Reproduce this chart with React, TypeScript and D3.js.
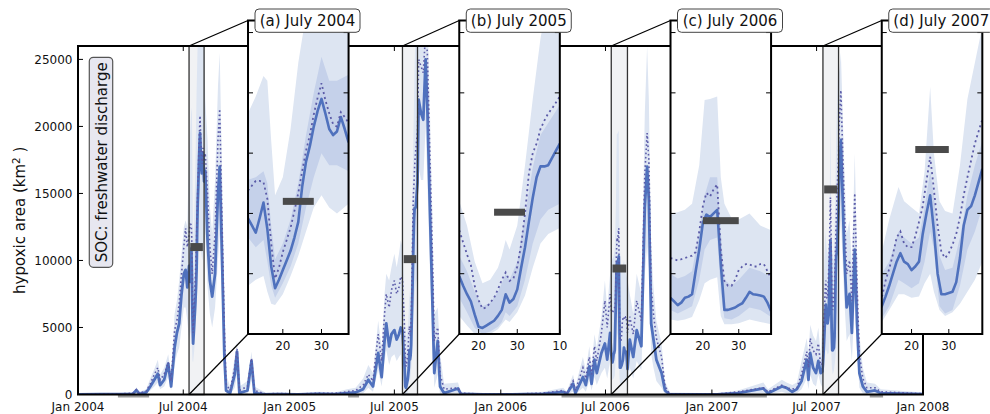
import React from "react";
import * as d3 from "d3";

const W = 990;
const H = 414;
const plot = { left: 78, right: 923, top: 46, bottom: 394.5 };
const insetBox = { top: 20.5, bottom: 334, offset: 0.2012, step: 0.25, width: 0.119 };

const yMax = 26000;
const yTicks = [0, 5000, 10000, 15000, 20000, 25000];

const meanColor = "#4f71bd";
const dottedColor = "#5b5ba8";
const outerColor = "#dde5f2";
const innerColor = "#c5d1ea";
const obsColor = "#4a4a4a";

// main record, outside the July windows (the windows come from the panel arrays)
const mainDates = [
  "2004-01-01", "2004-02-10", "2004-03-05", "2004-04-05", "2004-04-11", "2004-04-16", "2004-04-28",
  "2004-05-05", "2004-05-12", "2004-05-18", "2004-05-22", "2004-05-29", "2004-06-05", "2004-06-10",
  "2004-06-16", "2004-06-20", "2004-06-24", "2004-06-28", "2004-07-02", "2004-07-05", "2004-07-08",
  "2004-08-08", "2004-08-12", "2004-08-16", "2004-08-20", "2004-08-25", "2004-08-30", "2004-09-02",
  "2004-09-06", "2004-09-10", "2004-09-13", "2004-09-20", "2004-09-28", "2004-10-02", "2004-10-06",
  "2004-10-20", "2004-10-27", "2004-11-01", "2004-11-20", "2004-12-15",
  "2005-01-15", "2005-02-20", "2005-03-20", "2005-04-10", "2005-04-25", "2005-05-08", "2005-05-17",
  "2005-05-25", "2005-06-03", "2005-06-09", "2005-06-14", "2005-06-17", "2005-06-22", "2005-06-26",
  "2005-07-01", "2005-07-05", "2005-07-09", "2005-07-12",
  "2005-08-12", "2005-08-16", "2005-08-20", "2005-08-24", "2005-08-27", "2005-08-31", "2005-09-05",
  "2005-09-08", "2005-09-14", "2005-09-18", "2005-09-25", "2005-10-19", "2005-10-24", "2005-12-01",
  "2006-01-20", "2006-03-15", "2006-04-19", "2006-04-25", "2006-05-06", "2006-05-10", "2006-05-23",
  "2006-05-28", "2006-06-03", "2006-06-07", "2006-06-12", "2006-06-16", "2006-06-24", "2006-06-30",
  "2006-07-04", "2006-07-09",
  "2006-08-12", "2006-08-18", "2006-08-24", "2006-09-01", "2006-09-07", "2006-09-11", "2006-09-14",
  "2006-09-18", "2006-09-22", "2006-09-27", "2006-10-06", "2006-10-12", "2006-10-20",
  "2007-01-10", "2007-02-15", "2007-03-31", "2007-04-08", "2007-05-02", "2007-05-10", "2007-05-20",
  "2007-05-28", "2007-06-05", "2007-06-14", "2007-06-17", "2007-06-20", "2007-06-25", "2007-06-30",
  "2007-07-04", "2007-07-08",
  "2007-08-09", "2007-08-12", "2007-08-18", "2007-08-22", "2007-08-27", "2007-08-31", "2007-09-05",
  "2007-09-09", "2007-09-13", "2007-09-19", "2007-09-26", "2007-10-10", "2007-10-20", "2007-12-31",
];
const mainMean = [
  0, 30, 20, 50, 320, 50, 150,
  600, 1100, 1550, 700, 1100, 2300, 600,
  3500, 4600, 5300, 7500, 9000, 9300, 8000,
  16700, 11500, 8500, 7300, 9000, 15000, 17000,
  10300, 3000, 300, 100, 1500, 3200, 100,
  300, 2500, 100, 0, 30,
  0, 50, 30, 100, 150, 400, 1100,
  600, 3100, 1300, 4000, 5300, 3600, 4500,
  4800, 4100, 4500, 5000,
  22000, 21000, 20500, 25000, 21500, 14500, 6500,
  1600, 4000, 600, 100, 450, 50, 0,
  0, 50, 200, 30, 800, 100, 1300,
  700, 2100, 800, 2600, 1600, 3100, 3800,
  2600, 4600,
  4100, 2800, 4800, 3600, 14000, 17000, 14500,
  5300, 4100, 2600, 1600, 300, 0,
  0, 100, 450, 100, 600, 500, 200,
  400, 1000, 2600, 1100, 3100, 2000, 1600,
  2500, 1600,
  16000, 19000, 10500, 6500, 7500, 4600, 10800,
  5300, 1600, 600, 200, 300, 100, 30,
];
const mainDotted = [
  0, 60, 40, 90, 380, 100, 250,
  800, 1500, 2000, 1100, 1500, 2400, 1000,
  4800, 5500, 6800, 9000, 11000, 12400, 11000,
  18000, 15000, 11000, 9000, 12000, 19000, 21300,
  13000, 5000, 800, 300, 2000, 3400, 300,
  600, 2700, 300, 50, 80,
  30, 100, 80, 200, 300, 700, 1500,
  1000, 4500, 2500, 6000, 7500, 6500, 7800,
  8500, 7500, 8000, 8800,
  25000, 24500, 24000, 27000, 25500, 18500, 10000,
  4000, 5000, 1500, 400, 500, 100, 30,
  30, 100, 300, 80, 1000, 300, 2000,
  1200, 2800, 1500, 3600, 2500, 4600, 7000,
  5000, 7500,
  5800, 4500, 7000, 5500, 16500, 19500, 17500,
  8000, 6000, 4200, 2800, 600, 50,
  30, 200, 500, 200, 700, 500, 400,
  500, 1500, 3200, 2000, 4200, 3300, 3000,
  3800, 2200,
  20000, 22700, 14000, 9000, 10000, 7000, 15000,
  8000, 3000, 1200, 500, 500, 200, 60,
];
const mainLo = [
  0, 0, 0, 0, 100, 0, 50,
  300, 600, 900, 400, 600, 1300, 300,
  2200, 3000, 3500, 5000, 6500, 6500, 5500,
  12000, 8000, 6000, 5000, 6500, 10000, 12000,
  7000, 1500, 0, 0, 500, 1500, 0,
  0, 1000, 0, 0, 0,
  0, 0, 0, 0, 0, 100, 500,
  200, 1800, 600, 2500, 3300, 2200, 2800,
  3000, 2500, 2800, 3000,
  17000, 16000, 16000, 20000, 16000, 10000, 4000,
  500, 1500, 0, 0, 100, 0, 0,
  0, 0, 0, 0, 200, 0, 500,
  200, 1000, 300, 1300, 700, 1600, 2000,
  1200, 2500,
  2000, 1200, 2500, 1800, 9000, 11000, 9500,
  3000, 2000, 1000, 500, 0, 0,
  0, 0, 100, 0, 200, 100, 0,
  100, 400, 1200, 400, 1500, 800, 600,
  1500, 800,
  11000, 13000, 7000, 4000, 4500, 2500, 7000,
  3000, 500, 100, 0, 0, 0, 0,
];
const mainHi = [
  50, 120, 100, 180, 550, 200, 400,
  1200, 1900, 2600, 1500, 2000, 3000, 1400,
  6000, 7000, 8500, 10500, 12500, 13000, 12500,
  22000, 19000, 14000, 12000, 16000, 23000, 25500,
  17000, 7000, 1500, 600, 2800, 4000, 600,
  1000, 3200, 600, 150, 150,
  100, 200, 150, 400, 500, 1200, 2200,
  1600, 5500, 3500, 7500, 9000, 8500, 9500,
  10500, 9500, 10500, 11500,
  27000, 27000, 27500, 30000, 29000, 22000, 13000,
  6000, 6500, 3000, 800, 900, 200, 80,
  100, 200, 500, 200, 1500, 600, 2800,
  1800, 3600, 2200, 4500, 3500, 5800, 8500,
  6500, 9000,
  7500, 6000, 9000, 7500, 21000, 26000, 22000,
  11000, 8000, 5500, 3800, 1000, 150,
  100, 300, 900, 400, 1100, 900, 700,
  900, 2500, 4200, 3000, 5200, 4400, 4000,
  5000, 3000,
  24000, 25500, 17000, 12000, 13000, 9500, 18000,
  10500, 4500, 2000, 900, 800, 400, 150,
];

// observations sitting on zero (drawn just under the x axis)
const zeroObsStart = ["2004-03-10", "2005-04-12", "2006-04-16", "2007-10-01"];
const zeroObsEnd = ["2004-05-03", "2005-05-01", "2007-04-06", "2007-10-24"];

// July windows; days count from 1 July, so 37 means 6 August
const panelLabels = ["(a) July 2004", "(b) July 2005", "(c) July 2006", "(d) July 2007"];
const panelYears = [2004, 2005, 2006, 2007];
const windowStart = [11, 15, 11, 12];
const windowEnd = [37, 41, 39, 39];
const firstDay = [11, 15, 11, 11];
const obsStart = [20, 24, 20, 21];
const obsEnd = [28, 32, 30, 30];
const obsArea = [11000, 10100, 9400, 15300];

const meanA = [9600, 9000, 8400, 9600, 10900, 8700, 5600, 3800, 4500, 5300, 6100, 6900, 8000, 9300,
  12200, 14300, 15600, 17200, 18500, 19500, 18300, 17000, 16500, 16800, 18000, 17000, 15900];
const dottedA = [11900, 12300, 12700, 12700, 12600, 11200, 7500, 4600, 5500, 6800, 7800, 8800, 10200,
  11700, 13500, 15200, 16500, 18200, 19600, 20800, 19400, 18300, 17400, 17200, 18400, 18000, 17500];
const bandDaysA = [11, 13, 15, 16, 17, 18, 20, 22, 24, 26, 28, 30, 32, 34, 37];
const outerHiA = [18300, 19700, 21400, 21000, 16000, 11500, 13000, 17000, 22500, 26500, 28000, 28000, 28000, 28000, 28000];
const outerLoA = [4000, 4500, 4800, 3500, 2500, 2400, 3300, 4800, 6500, 8500, 10500, 11500, 10500, 10000, 10800];
const innerHiA = [12800, 13000, 13500, 12500, 9000, 6200, 7500, 9500, 12500, 16500, 20000, 23000, 21000, 21000, 21500];
const innerLoA = [8000, 7200, 7800, 6000, 4000, 3000, 4200, 5600, 7500, 10500, 13000, 15000, 14000, 14000, 13500];

const meanB = [4800, 4000, 3300, 2700, 1600, 600, 500, 700, 900, 1100, 1500, 2000, 3300, 2600,
  2900, 3700, 5500, 7200, 9300, 11300, 13000, 13900, 13900, 14000, 14600, 15200, 15800];
const dottedB = [8600, 7600, 6600, 5700, 4000, 2800, 2100, 2200, 2600, 3000, 3700, 4500, 5100, 4400,
  4600, 5600, 7400, 10000, 13300, 15000, 15800, 17000, 17700, 18300, 18700, 19200, 19700];
const bandDaysB = [15, 17, 19, 21, 23, 25, 26, 27, 28, 30, 32, 34, 36, 38, 41];
const outerHiB = [11000, 9000, 6000, 4200, 4500, 5500, 6500, 7800, 7000, 9000, 14000, 19500, 24500, 28000, 28000];
const outerLoB = [1500, 700, 0, 0, 0, 400, 800, 1200, 1000, 1800, 3200, 5500, 7500, 8300, 8800];
const innerHiB = [6500, 5200, 3500, 2300, 2600, 3500, 4200, 5000, 4500, 6000, 9800, 13800, 16500, 17500, 19000];
const innerLoB = [3000, 1800, 500, 0, 200, 600, 1000, 1800, 1500, 2300, 4500, 7500, 9500, 10300, 10800];

const meanC = [3000, 2700, 2400, 2600, 3000, 3100, 3300, 5200, 7000, 9200, 9900, 9700, 10000, 10300,
  5800, 2000, 2000, 2100, 2200, 2400, 2550, 3000, 3500, 3300, 3250, 3200, 3100, 2600, 1900];
const dottedC = [6300, 6200, 6100, 6200, 6300, 6400, 6500, 6800, 8500, 10600, 11700, 11400, 12000, 12400,
  7000, 4400, 4000, 4000, 4500, 5300, 5600, 5800, 5800, 5600, 5600, 5800, 5800, 5200, 4600];
const bandDaysC = [11, 13, 15, 17, 19, 20.5, 22, 24, 25, 26, 28, 30, 33, 36, 39];
const outerHiC = [10000, 10100, 10300, 10800, 14000, 19400, 19500, 19700, 13000, 10800, 9600, 9500, 10000, 9000, 8600];
const outerLoC = [1200, 1100, 1200, 1400, 2800, 4200, 4500, 4700, 1500, 800, 800, 900, 1200, 1000, 800];
const innerHiC = [5000, 4600, 4800, 5200, 8500, 11500, 13000, 13000, 8500, 4500, 4000, 4500, 5500, 5200, 4700];
const innerLoC = [2000, 1700, 2000, 2300, 4500, 7000, 7800, 8000, 3500, 1300, 1200, 1500, 2200, 2000, 1400];

const meanD = [1700, 2300, 3100, 4000, 5000, 6000, 6700, 6000, 5800, 5300, 5600, 6000, 8300, 10000,
  11500, 8600, 5000, 3300, 3300, 3400, 3500, 4300, 6300, 9000, 10300, 10600, 11500, 12600, 13700];
const dottedD = [2300, 3000, 4400, 5400, 6600, 8000, 8500, 7500, 7200, 7200, 8100, 9300, 10600, 12700,
  14700, 12000, 9000, 6800, 6300, 6700, 7400, 8300, 9700, 11500, 13000, 14400, 15800, 16800, 17800];
const bandDaysD = [11, 14, 16.5, 18, 20, 22, 23.5, 25, 26, 27.5, 29, 31, 33, 35, 37, 39];
const outerHiD = [5500, 9500, 12200, 11000, 10500, 10000, 13500, 20500, 15000, 11000, 10200, 10000, 14000, 19500, 22500, 25500];
const outerLoD = [500, 2000, 3300, 3300, 3000, 3100, 4200, 5000, 3500, 2000, 1500, 1800, 2500, 3500, 4500, 6000];
const innerHiD = [4500, 6000, 8500, 8000, 7500, 8000, 10500, 13500, 11500, 6500, 5300, 5500, 8000, 11500, 14000, 16000];
const innerLoD = [800, 2300, 4500, 4200, 3800, 4200, 6000, 8500, 7000, 2300, 1700, 2000, 4000, 7000, 8500, 10500];

const parse = d3.timeParse("%Y-%m-%d");
const julyDate = (year: number, day: number) =>
  new Date(new Date(year, 6, 0).getTime() + day * 864e5);

const means = [meanA, meanB, meanC, meanD];
const dotteds = [dottedA, dottedB, dottedC, dottedD];
const bandDays = [bandDaysA, bandDaysB, bandDaysC, bandDaysD];
const outerHis = [outerHiA, outerHiB, outerHiC, outerHiD];
const outerLos = [outerLoA, outerLoB, outerLoC, outerLoD];
const innerHis = [innerHiA, innerHiB, innerHiC, innerHiD];
const innerLos = [innerLoA, innerLoB, innerLoC, innerLoD];

type LinePt = { date: Date; mean: number; dotted: number };
type BandPt = { date: Date; lo: number; hi: number };

const panels = panelYears.map((year, i) => ({
  year,
  label: panelLabels[i],
  from: julyDate(year, windowStart[i]),
  to: julyDate(year, windowEnd[i]),
  line: means[i].map((v, j) => ({ date: julyDate(year, firstDay[i] + j), mean: v, dotted: dotteds[i][j] })) as LinePt[],
  outer: bandDays[i].map((d, j) => ({ date: julyDate(year, d), lo: outerLos[i][j], hi: outerHis[i][j] })) as BandPt[],
  inner: bandDays[i].map((d, j) => ({ date: julyDate(year, d), lo: innerLos[i][j], hi: innerHis[i][j] })) as BandPt[],
  obsFrom: julyDate(year, obsStart[i]),
  obsTo: julyDate(year, obsEnd[i]),
  obs: obsArea[i],
}));

const byDate = (a: { date: Date }, b: { date: Date }) => +a.date - +b.date;
const mainLine: LinePt[] = [
  ...mainDates.map((s, i) => ({ date: parse(s)!, mean: mainMean[i], dotted: mainDotted[i] })),
  ...panels.flatMap((p) => p.line),
].sort(byDate);
const mainBand: BandPt[] = [
  ...mainDates.map((s, i) => ({ date: parse(s)!, lo: mainLo[i], hi: mainHi[i] })),
  ...panels.flatMap((p) => p.outer),
].sort(byDate);

const font = "DejaVu Sans, sans-serif";

function Inset({ p, i }: { p: (typeof panels)[number]; i: number }) {
  const pw = plot.right - plot.left;
  const left = plot.left + (insetBox.offset + insetBox.step * i) * pw;
  const right = left + insetBox.width * pw;
  const x = d3.scaleTime().domain([p.from, p.to]).range([left, right]);
  const y = d3.scaleLinear().domain([0, yMax]).range([insetBox.bottom, insetBox.top]);
  const area = d3.area<BandPt>().x((d) => x(d.date)).y0((d) => y(d.lo)).y1((d) => y(d.hi));
  const line = d3.line<LinePt>().x((d) => x(d.date));
  const xTicks = d3.timeDay
    .range(p.from, d3.timeDay.offset(p.to, 1))
    .filter((d) => [10, 20, 30].includes(d.getDate()));
  const clip = `inset-clip-${i}`;
  return (
    <g>
      <defs>
        <clipPath id={clip}>
          <rect x={left} y={insetBox.top} width={right - left} height={insetBox.bottom - insetBox.top} />
        </clipPath>
      </defs>
      <rect x={left} y={insetBox.top} width={right - left} height={insetBox.bottom - insetBox.top} fill="#fff" />
      <g clipPath={`url(#${clip})`}>
        <path d={area(p.outer)!} fill={outerColor} />
        <path d={area(p.inner)!} fill={innerColor} />
        <path d={line.y((d) => y(d.mean))(p.line)!} fill="none" stroke={meanColor} strokeWidth={2.6} strokeLinejoin="round" />
        <path d={line.y((d) => y(d.dotted))(p.line)!} fill="none" stroke={dottedColor} strokeWidth={1.8} strokeDasharray="2 3.2" />
        <rect x={x(p.obsFrom)} y={y(p.obs) - 3.5} width={x(p.obsTo) - x(p.obsFrom)} height={7} fill={obsColor} />
      </g>
      {yTicks.map((t) => (
        <g key={t}>
          <line x1={left} x2={left + 5} y1={y(t)} y2={y(t)} stroke="#000" strokeWidth={1} />
          <line x1={right} x2={right - 5} y1={y(t)} y2={y(t)} stroke="#000" strokeWidth={1} />
        </g>
      ))}
      {xTicks.map((t) => (
        <g key={+t}>
          <line x1={x(t)} x2={x(t)} y1={insetBox.bottom} y2={insetBox.bottom - 5} stroke="#000" strokeWidth={1} />
          <line x1={x(t)} x2={x(t)} y1={insetBox.top} y2={insetBox.top + 5} stroke="#000" strokeWidth={1} />
          <text x={x(t)} y={349.5} textAnchor="middle" fontSize={12} fill="#111">
            {d3.timeFormat("%d")(t)}
          </text>
        </g>
      ))}
      <rect x={left} y={insetBox.top} width={right - left} height={insetBox.bottom - insetBox.top} fill="none" stroke="#000" strokeWidth={2} />
      <rect x={left + 7} y={9} width={105} height={23.3} rx={4} fill="#fff" stroke="#444" strokeWidth={1} />
      <text x={left + 59.5} y={26} textAnchor="middle" fontSize={15} fill="#111">
        {p.label}
      </text>
    </g>
  );
}

export default function App() {
  const x = d3.scaleTime().domain([new Date(2004, 0, 1), new Date(2008, 0, 1)]).range([plot.left, plot.right]);
  const y = d3.scaleLinear().domain([0, yMax]).range([plot.bottom, plot.top]);
  const area = d3.area<BandPt>().x((d) => x(d.date)).y0((d) => y(d.lo)).y1((d) => y(d.hi));
  const line = d3.line<LinePt>().x((d) => x(d.date));
  const xTicks = x.ticks(d3.timeMonth.every(6)!);
  const fmt = d3.timeFormat("%b %Y");
  const pw = plot.right - plot.left;

  return (
    <svg width={W} height={H} style={{ position: "absolute", left: 0, top: 0, fontFamily: font }}>
      <defs>
        <clipPath id="main-clip">
          <rect x={plot.left} y={plot.top} width={pw} height={plot.bottom - plot.top} />
        </clipPath>
      </defs>

      {/* July windows on the main record */}
      {panels.map((p, i) => (
        <rect key={i} x={x(p.from)} y={plot.top} width={x(p.to) - x(p.from)} height={plot.bottom - plot.top} fill="#f1f2f4" />
      ))}

      <g clipPath="url(#main-clip)">
        <path d={area(mainBand)!} fill={outerColor} />
        <path d={line.y((d) => y(d.mean))(mainLine)!} fill="none" stroke={meanColor} strokeWidth={2.8} strokeLinejoin="round" />
        <path d={line.y((d) => y(d.dotted))(mainLine)!} fill="none" stroke={dottedColor} strokeWidth={1.6} strokeDasharray="1.6 2.6" />
      </g>

      {zeroObsStart.map((s, i) => (
        <rect key={s} x={x(parse(s)!)} y={y(0)} width={x(parse(zeroObsEnd[i])!) - x(parse(s)!)} height={3} fill="#9a9a9a" />
      ))}
      {panels.map((p, i) => (
        <rect key={i} x={x(p.obsFrom) - 4} y={y(p.obs) - 4} width={x(p.obsTo) - x(p.obsFrom) + 8} height={8} fill={obsColor} />
      ))}
      {panels.map((p, i) => (
        <rect key={i} x={x(p.from)} y={plot.top} width={x(p.to) - x(p.from)} height={plot.bottom - plot.top} fill="none" stroke="#333" strokeWidth={1.3} />
      ))}

      {/* main axes */}
      {yTicks.map((t) => (
        <g key={t}>
          <line x1={plot.left} x2={plot.left + 5} y1={y(t)} y2={y(t)} stroke="#000" />
          <line x1={plot.right} x2={plot.right - 5} y1={y(t)} y2={y(t)} stroke="#000" />
          <text x={plot.left - 5.5} y={y(t)} dy="0.35em" textAnchor="end" fontSize={12} fill="#111">
            {t}
          </text>
        </g>
      ))}
      {xTicks.map((t) => (
        <g key={+t}>
          <line x1={x(t)} x2={x(t)} y1={plot.bottom} y2={plot.bottom - 5} stroke="#000" />
          <line x1={x(t)} x2={x(t)} y1={plot.top} y2={plot.top + 5} stroke="#000" />
          <text x={x(t)} y={411} textAnchor="middle" fontSize={12} fill="#111">
            {fmt(t)}
          </text>
        </g>
      ))}
      <rect x={plot.left} y={plot.top} width={pw} height={plot.bottom - plot.top} fill="none" stroke="#000" strokeWidth={2} />

      {/* connectors from the July windows to the zoomed panels */}
      {panels.map((p, i) => {
        const left = plot.left + (insetBox.offset + insetBox.step * i) * pw;
        return (
          <g key={i} stroke="#000" strokeWidth={1.2}>
            <line x1={x(p.from)} y1={plot.top} x2={left} y2={insetBox.top} />
            <line x1={x(p.from)} y1={plot.bottom} x2={left} y2={insetBox.bottom} />
          </g>
        );
      })}

      {panels.map((p, i) => (
        <Inset key={i} p={p} i={i} />
      ))}

      <rect x={89.3} y={57.3} width={23.4} height={210} rx={4} fill="#e7e7f0" stroke="#555" strokeWidth={1.2} />
      <text transform="translate(101.5,162.3) rotate(-90)" textAnchor="middle" dy="0.36em" fontSize={15} fill="#111">
        SOC: freshwater discharge
      </text>

      <text transform={`translate(20,${(plot.top + plot.bottom) / 2}) rotate(-90)`} textAnchor="middle" dy="0.36em" fontSize={15} fill="#111">
        hypoxic area (km
        <tspan dy="-5" fontSize={10.5}>2</tspan>
        <tspan dy="5"> )</tspan>
      </text>
    </svg>
  );
}
